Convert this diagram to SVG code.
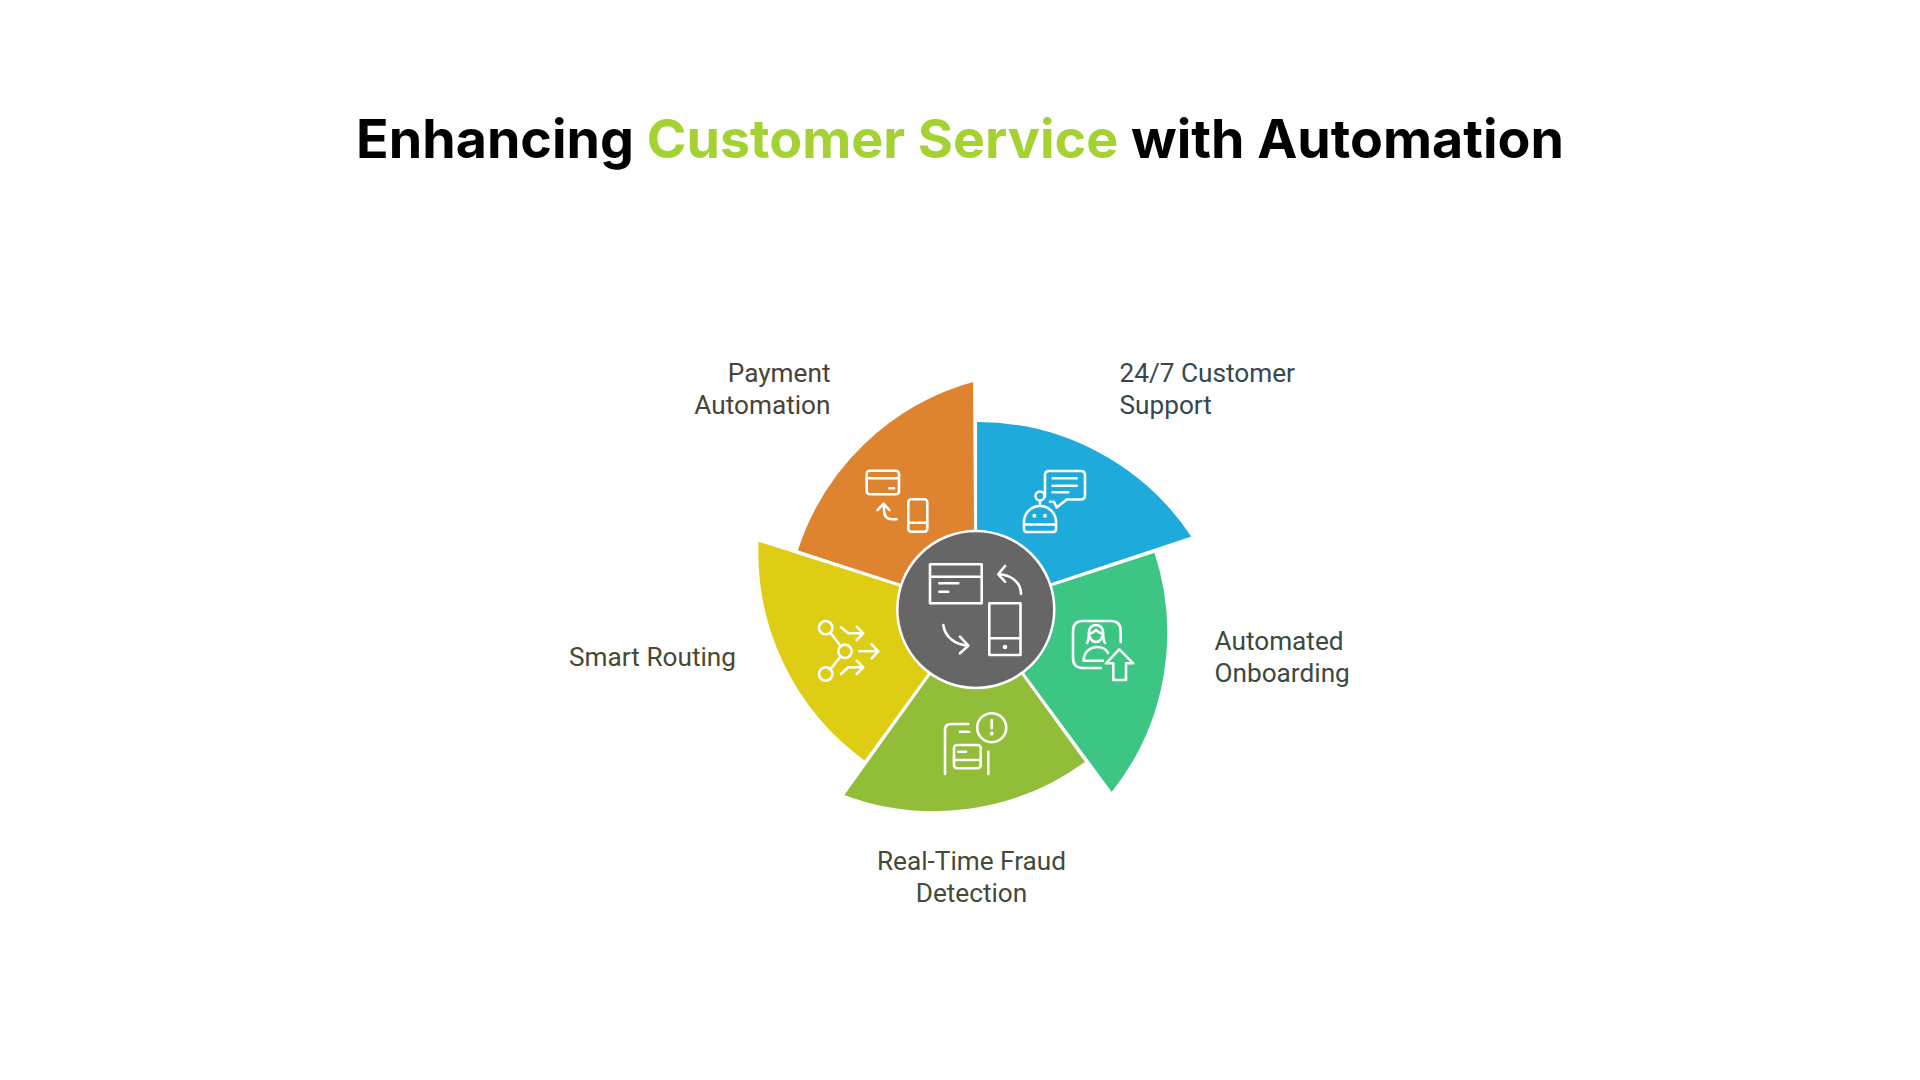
<svg xmlns="http://www.w3.org/2000/svg" width="1920" height="1080" viewBox="0 0 1920 1080">
<style>
.wedge{stroke:#fff;stroke-width:2.5;stroke-linejoin:miter}
.ic{fill:none;stroke:#fff;stroke-width:2.6;stroke-linecap:round;stroke-linejoin:round}
.dot{fill:#fff}
.lab{font-family:Roboto,"Liberation Sans",sans-serif;font-size:26.2px}
.title{font-family:Inter,"Liberation Sans",sans-serif;font-size:53.75px;font-weight:700}
</style>
<defs>
<path id="w" d="M975.8 609.5V420.8A258 258 0 0 1 1193.3 537.3Z"/>
</defs>
<rect width="1920" height="1080" fill="#fff"/>
<text class="title" x="960" y="158" text-anchor="middle" fill="#000">Enhancing <tspan fill="#A5D233">Customer Service</tspan> with Automation</text>
<g id="wedges">
<g id="node-support"><use href="#w" class="wedge" fill="#1EAADB"/></g>
<g id="node-onboarding"><use href="#w" class="wedge" fill="#3CC583" transform="rotate(72 975.8 609.5)"/></g>
<g id="node-fraud"><use href="#w" class="wedge" fill="#92BD39" transform="rotate(144 975.8 609.5)"/></g>
<g id="node-routing"><use href="#w" class="wedge" fill="#DFCD14" transform="rotate(216 975.8 609.5)"/></g>
<g id="node-payment"><use href="#w" class="wedge" fill="#DE8431" transform="rotate(288 975.8 609.5)"/></g>
</g>
<g id="node-center">
<circle cx="975.8" cy="609.5" r="78.5" fill="#666" stroke="#fff" stroke-width="2.5"/>
<g class="ic">
<path d="M930 564.3H981.7V603.3H930ZM930 576.7H981.7M939.3 583.3H958.3M939.3 591.7H948.3"/>
<path d="M1021 594C1021 583 1012 575 998.5 574.3M1005 566L998.3 574.3L1005 581.7"/>
<path d="M989.3 603.3H1020.5V655H989.3ZM989.3 638.3H1020.5"/>
<path d="M943.3 625C945 637 955 645 968.3 645.7M960 636.7L968.3 645.7L960 653.3"/>
</g>
<circle class="dot" cx="1005" cy="647" r="2.3"/>
</g>
<g id="icon-support" class="ic">
<path d="M1045 496.7V475Q1045 471 1049 471H1081Q1085 471 1085 475V495Q1085 499.5 1081 499.5H1066.7L1056.7 507.5L1054 501.7H1050"/>
<path d="M1052.7 478.3H1076.7M1052.7 485.7H1076.7M1052.7 492.3H1068.3"/>
<circle cx="1040" cy="496" r="4.5"/>
<path d="M1040 500.5V506M1024 522A16 16 0 0 1 1056 522V529Q1056 532 1053 532H1027Q1024 532 1024 529ZM1024 524.5H1056"/>
<circle class="dot" stroke="none" cx="1034.3" cy="515.7" r="2"/>
<circle class="dot" stroke="none" cx="1045" cy="515.7" r="2"/>
</g>
<g id="icon-payment" class="ic">
<rect x="866.7" y="470.7" width="32.3" height="23.6" rx="3"/>
<path d="M866.7 478.3H899M889.3 488.3H894"/>
<rect x="908.3" y="499.3" width="19" height="32.4" rx="3"/>
<path d="M908.3 522.7H927.3M896.7 519.3H892Q884 519 884 510V504M877.7 510L883.6 503.6L889.3 510"/>
</g>
<g id="icon-onboarding" class="ic">
<path d="M1120.7 642V631Q1120.7 621 1110.7 621H1083Q1073 621 1073 631V658Q1073 668 1083 668H1100.7"/>
<path d="M1087 643C1089 640 1089 635 1089 632C1089 628 1092 625 1096 625C1100 625 1103 628 1103 632C1103 635 1103 640 1105 643"/>
<path d="M1089 633C1092 634 1094 632 1096 630C1098 632 1100 634 1103 633C1103 638 1100 642 1096 642C1092 642 1089 638 1089 633Z"/>
<path d="M1103 660.7H1083.5C1084 651 1091 647 1097 647C1102 647 1106 649 1108 653"/>
<path d="M1119.3 649.3L1106 663.3H1113.3V680H1126V663.3H1133.3Z"/>
</g>
<g id="icon-fraud" class="ic">
<circle cx="991.7" cy="727.7" r="14.5"/>
<path d="M991.7 720V728.3M945 774V730Q945 724 951 724H968.3M960 731.7H969.3M988.3 751.7V774"/>
<rect x="954" y="745" width="26.7" height="23.3" rx="3"/>
<path d="M954 760H980.7M958.3 751.7H966"/>
<circle class="dot" stroke="none" cx="991.7" cy="733.5" r="2"/>
</g>
<g id="icon-routing" class="ic">
<circle cx="825.7" cy="627.7" r="6.7"/>
<circle cx="845" cy="651.3" r="6.7"/>
<circle cx="825.7" cy="674" r="6.7"/>
<path d="M831 633.5L839.7 645M839.7 657.5L831 668.5"/>
<path d="M841 627.3L848.3 633.3H863.3M856.7 626.7L863.3 633.3L856.7 640"/>
<path d="M859.3 651.3H878.3M871.7 644.3L878.3 651.3L871.7 658.3"/>
<path d="M841 674L848.3 667.3H863.3M856.7 660.7L863.3 667.3L856.7 674"/>
</g>
<g id="labels">
<text class="lab" fill="#37474F" x="1119.5" y="382">24/7 Customer</text>
<text class="lab" fill="#37474F" x="1119.5" y="414">Support</text>
<text class="lab" fill="#3A4A40" x="1214.5" y="650">Automated</text>
<text class="lab" fill="#3A4A40" x="1214.5" y="682">Onboarding</text>
<text class="lab" fill="#444A38" x="971.5" y="870" text-anchor="middle">Real-Time Fraud</text>
<text class="lab" fill="#444A38" x="971.5" y="902" text-anchor="middle">Detection</text>
<text class="lab" fill="#4A4832" x="736" y="665.5" text-anchor="end">Smart Routing</text>
<text class="lab" fill="#4A4238" x="830.5" y="382" text-anchor="end">Payment</text>
<text class="lab" fill="#4A4238" x="830.5" y="414" text-anchor="end">Automation</text>
</g>
</svg>
